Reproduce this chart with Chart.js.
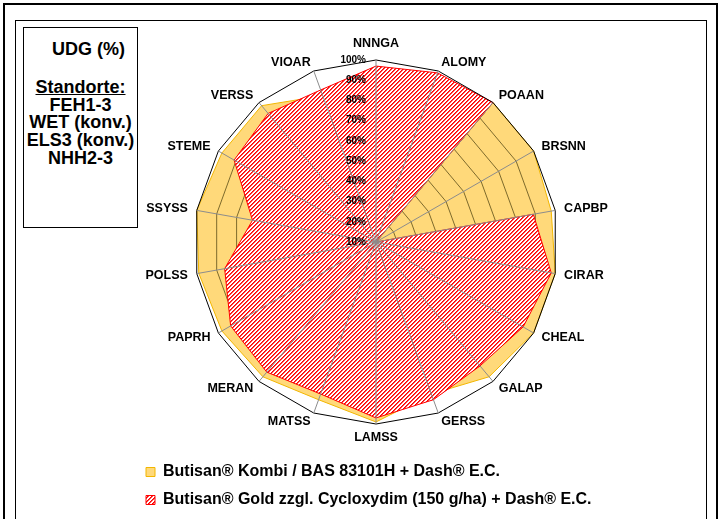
<!DOCTYPE html>
<html><head><meta charset="utf-8">
<script src="https://cdn.jsdelivr.net/npm/chart.js@4.4.0/dist/chart.umd.min.js"></script>
<style>
html,body{margin:0;padding:0;background:#fff;}
#wrap{position:relative;width:720px;height:519px;overflow:hidden;background:#fff;}
#outer{position:absolute;left:3px;top:3px;width:711px;height:540px;border:2px solid #000;}
#inner{position:absolute;left:15px;top:20px;width:690px;height:540px;border:1px solid #000;}
#box{position:absolute;left:23px;top:27px;width:113px;height:199px;border:1px solid #000;font-family:"Liberation Sans",Arial,sans-serif;font-weight:bold;font-size:18px;color:#000;text-align:center;}
#box .udg{position:absolute;top:11px;left:0;right:0;padding-left:16px;line-height:20px;}
#box .loc{position:absolute;top:51px;left:0;right:0;line-height:17.7px;}
#box u{text-decoration:underline;}
canvas{position:absolute;left:0;top:0;}
</style></head>
<body><div id="wrap">
<div id="outer"></div><div id="inner"></div>
<div id="box"><div class="udg">UDG (%)</div><div class="loc"><u>Standorte:</u><br>FEH1-3<br>WET (konv.)<br>ELS3 (konv.)<br>NHH2-3</div></div>
<canvas id="c" width="720" height="519"></canvas>
</div>
<script>
const categories = ['NNNGA','ALOMY','POAAN','BRSNN','CAPBP','CIRAR','CHEAL','GALAP','GERSS','LAMSS','MATSS','MERAN','PAPRH','POLSS','SSYSS','STEME','VERSS','VIOAR'];
const kombiValues = [10,10,100,100,98,100,100,97,90,99,93,97,98,99,100,98,98,87];
const goldValues  = [97,99,100,10,89,98,94,90,93,97,90,94,93,86,72,91,93,90];
const seriesNames = ['Butisan® Kombi / BAS 83101H + Dash® E.C.','Butisan® Gold zzgl. Cycloxydim (150 g/ha) + Dash® E.C.'];
const scaleMin = 10, scaleMax = 100, scaleStep = 10;

const FAMILY = '"Liberation Sans", Arial, sans-serif';
const canvas = document.getElementById('c');
const ctx = canvas.getContext('2d');

function makeHatch(){
  const N = 4;
  const t = document.createElement('canvas'); t.width = N; t.height = N;
  const g = t.getContext('2d');
  g.fillStyle = 'rgb(255,255,255)'; g.fillRect(0,0,N,N);
  for (let x = 0; x < N; x++) {
    for (let y = 0; y < N; y++) {
      const k = (x + y) % N;
      if (k === 3) { g.fillStyle = 'rgb(255,0,0)'; g.fillRect(x, y, 1, 1); }
      else if (k === 0) { g.fillStyle = 'rgb(255,70,70)'; g.fillRect(x, y, 1, 1); }
    }
  }
  return ctx.createPattern(t,'repeat');
}
const hatch = makeHatch();

const radarExtras = {
  id: 'radarExtras',
  afterDatasetDraw(chart, args) {
    if (args.index !== 0) return;
    const scale = chart.scales.r;
    const pts = args.meta.data;
    const c = chart.ctx;
    c.save();
    c.beginPath();
    pts.forEach((p,i)=>{ if(i) c.lineTo(p.x,p.y); else c.moveTo(p.x,p.y); });
    c.closePath();
    c.clip();
    c.strokeStyle = '#7d6a2c'; c.lineWidth = 1;
    scale.ticks.forEach(t => {
      if (t.value <= scale.min || t.value >= scale.max) return;
      c.beginPath();
      for (let i = 0; i < categories.length; i++) {
        const p = scale.getPointPositionForValue(i, t.value);
        if (i) c.lineTo(p.x,p.y); else c.moveTo(p.x,p.y);
      }
      c.closePath(); c.stroke();
    });
    c.restore();
  },
  afterDraw(chart) {
    const scale = chart.scales.r;
    const c = chart.ctx;
    c.save();
    c.font = 'bold 10px ' + FAMILY;
    c.fillStyle = '#000'; c.textAlign = 'right'; c.textBaseline = 'middle';
    scale.ticks.forEach(t => {
      const d = scale.getDistanceFromCenterForValue(t.value);
      c.fillText(t.value + '%', scale.xCenter - 10, scale.yCenter - d);
    });
    c.restore();
  }
};

new Chart(ctx, {
  type: 'radar',
  data: {
    labels: categories,
    datasets: [
      { label: seriesNames[0], data: kombiValues, backgroundColor: '#FFD97A', borderColor: '#F2B600', borderWidth: 1, fill: 'start', pointRadius: 0, order: 1 },
      { label: seriesNames[1], data: goldValues, backgroundColor: hatch, borderColor: '#FF0000', borderWidth: 1, fill: 'start', pointRadius: 0, order: 0 }
    ]
  },
  options: {
    responsive: false,
    animation: false,
    layout: { padding: { left: 134, right: 100, top: 40, bottom: 1 } },
    elements: { line: { tension: 0 } },
    plugins: {
      legend: {
        position: 'bottom', align: 'start',
        labels: { boxWidth: 9, boxHeight: 9, padding: 12, color: '#000', font: { family: FAMILY, size: 16, weight: 'bold' },
                  sort: (a, b) => a.datasetIndex - b.datasetIndex }
      },
      tooltip: { enabled: false }
    },
    scales: {
      r: {
        min: scaleMin, max: scaleMax,
        ticks: { stepSize: scaleStep, display: false, z: 1 },
        grid: { z: 1, lineWidth: 1, color: (c) => (c.tick && c.tick.value === scaleMax) ? '#000000' : 'rgba(0,0,0,0)' },
        angleLines: { color: '#8c8c8c', lineWidth: 1 },
        pointLabels: {
          color: '#000',
          font: (c) => ({ family: FAMILY, size: 12.5, weight: 'bold', lineHeight: c.index === 9 ? '20px' : 0 }),
          padding: (c) => c.index === 0 ? 16 : (c.index === 9 ? 4 : 9)
        }
      }
    }
  },
  plugins: [radarExtras]
});
</script>
</body></html>
